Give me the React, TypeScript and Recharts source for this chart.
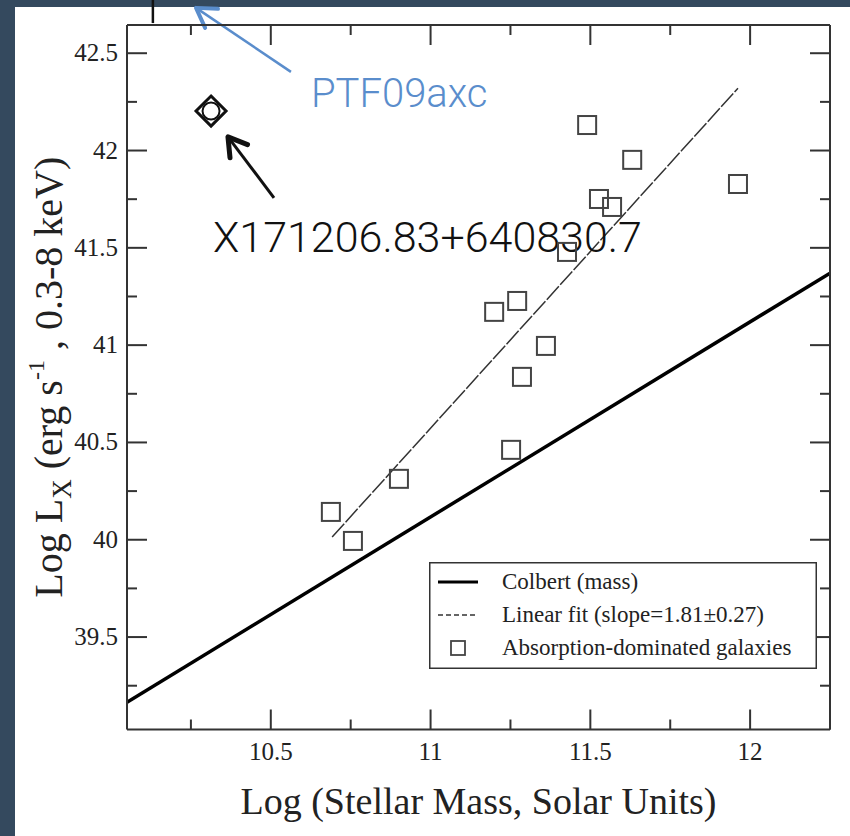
import React from 'react';
import { ComposedChart, XAxis, YAxis, Line, Scatter, ReferenceLine, Legend, Label } from 'recharts';

// ---------- data ----------
const xTicks = [10.25, 10.5, 10.75, 11, 11.25, 11.5, 11.75, 12, 12.25];
const xMajorTicks = [10.5, 11, 11.5, 12];
const yTicks = [39.25, 39.5, 39.75, 40, 40.25, 40.5, 40.75, 41, 41.25, 41.5, 41.75, 42, 42.25, 42.5];
const yMajorTicks = [39.5, 40, 40.5, 41, 41.5, 42, 42.5];

const galaxyMass = [10.688, 10.757, 10.901, 11.199, 11.271, 11.252, 11.286, 11.361, 11.427, 11.49, 11.527, 11.568, 11.631, 11.962];
const galaxyLx = [40.143, 39.994, 40.313, 41.171, 41.227, 40.462, 40.837, 40.996, 41.479, 42.131, 41.751, 41.71, 41.952, 41.828];

const sourceMass = [10.313];
const sourceLx = [42.203];

const colbertMass = [10.05, 12.25];
const colbertLx = [39.165, 41.37];

const fitMass = [10.692, 11.962];
const fitLx = [40.014, 42.32];

// annotation anchors (data coordinates)
const ptfArrowMass = [10.563, 10.266];
const ptfArrowLx = [42.404, 42.733];
const srcArrowMass = [10.51, 10.366];
const srcArrowLx = [41.757, 42.07];
const cutLineMass = [10.131, 10.131];
const cutLineLx = [42.655, 42.78];

const xDomain = [10.05, 12.25];
const yDomain = [39.025, 42.645];

const galaxyData = galaxyMass.map((x, i) => ({ x, y: galaxyLx[i] }));
const sourceData = sourceMass.map((x, i) => ({ x, y: sourceLx[i] }));
const colbertData = colbertMass.map((x, i) => ({ x, y: colbertLx[i] }));
const fitData = fitMass.map((x, i) => ({ x, y: fitLx[i] }));

const SERIF = '"Liberation Serif", "Times New Roman", serif';
const SANS = '"Helvetica Neue", Roboto, Lato, "Open Sans", sans-serif';
const AXIS = '#333';
const serifStyle = { fontFamily: SERIF };

// ---------- ticks ----------
const BottomTick = (p: any) => {
  const v = p.payload.value;
  const major = xMajorTicks.includes(v);
  return (
    <g>
      <line x1={p.x} y1={p.y} x2={p.x} y2={p.y - (major ? 20 : 10)} stroke={AXIS} strokeWidth={2} />
      {major && (
        <text x={p.x} y={p.y + 30} textAnchor="middle" style={serifStyle} fontSize={25} fill="#222">
          {String(v)}
        </text>
      )}
    </g>
  );
};
const TopTick = (p: any) => {
  const v = p.payload.value;
  const major = xMajorTicks.includes(v);
  return <line x1={p.x} y1={p.y} x2={p.x} y2={p.y + (major ? 20 : 10)} stroke={AXIS} strokeWidth={2} />;
};
const LeftTick = (p: any) => {
  const v = p.payload.value;
  const major = yMajorTicks.includes(v);
  return (
    <g>
      <line x1={p.x} y1={p.y} x2={p.x + (major ? 20 : 10)} y2={p.y} stroke={AXIS} strokeWidth={2} />
      {major && (
        <text x={p.x - 9} y={p.y + 8} textAnchor="end" style={serifStyle} fontSize={25} fill="#222">
          {String(v)}
        </text>
      )}
    </g>
  );
};
const RightTick = (p: any) => {
  const v = p.payload.value;
  const major = yMajorTicks.includes(v);
  return <line x1={p.x} y1={p.y} x2={p.x - (major ? 20 : 10)} y2={p.y} stroke={AXIS} strokeWidth={2} />;
};

// ---------- shapes ----------
const SquareShape = (p: any) => (
  <rect x={p.cx - 9} y={p.cy - 9} width={18} height={18} fill="none" stroke="#444" strokeWidth={2} />
);
const DiamondShape = (p: any) => (
  <g>
    <polygon
      points={`${p.cx},${p.cy - 15} ${p.cx + 15},${p.cy} ${p.cx},${p.cy + 15} ${p.cx - 15},${p.cy}`}
      fill="none"
      stroke="#111"
      strokeWidth={3}
    />
    <circle cx={p.cx} cy={p.cy} r={8.5} fill="none" stroke="#111" strokeWidth={2} />
  </g>
);

const arrow = (color: string, w: number, headW: number, head: number, text: string, dx: number, dy: number, fs: number) =>
  (p: any) => {
    const { x1, y1, x2, y2 } = p;
    const ang = Math.atan2(y1 - y2, x1 - x2);
    const a = 0.55;
    const h1 = `${x2 + head * Math.cos(ang - a)},${y2 + head * Math.sin(ang - a)}`;
    const h2 = `${x2 + head * Math.cos(ang + a)},${y2 + head * Math.sin(ang + a)}`;
    return (
      <g>
        <line x1={x1} y1={y1} x2={x2} y2={y2} stroke={color} strokeWidth={w} />
        <polyline points={`${h1} ${x2},${y2} ${h2}`} fill="none" stroke={color} strokeWidth={headW} strokeLinecap="round" strokeLinejoin="round" />
        <text x={x1 + dx} y={y1 + dy} style={{ fontFamily: SANS }} fontWeight={300} fontSize={fs} fill={color}>
          {text}
        </text>
      </g>
    );
  };
const BlueArrow = arrow('#5a8dcc', 2.5, 4, 22, 'PTF09axc', 20, 35, 40);
const BlackArrow = arrow('#111', 3, 5, 21, 'X171206.83+640830.7', -61, 54, 43);

const CutLine = (p: any) => <line x1={p.x1} y1={p.y1} x2={p.x2} y2={p.y2} stroke="#111" strokeWidth={2.5} />;

// ---------- titles ----------
const XTitle = (p: any) => {
  const vb = p.viewBox;
  return (
    <text x={vb.x + vb.width / 2} y={vb.y + 84} textAnchor="middle" style={serifStyle} fontSize={38} fill="#222">
      Log (Stellar Mass, Solar Units)
    </text>
  );
};
const YTitle = (p: any) => {
  const vb = p.viewBox;
  const cx = 62;
  const cy = vb.y + vb.height / 2;
  return (
    <text x={cx} y={cy} transform={`rotate(-90, ${cx}, ${cy})`} textAnchor="middle" style={serifStyle} fontSize={40} fill="#222">
      Log L<tspan dy={9} fontSize={27}>X</tspan>
      <tspan dy={-9}> (erg s</tspan>
      <tspan dy={-18} fontSize={24}>-1</tspan>
      <tspan dy={18}> , 0.3-8 keV)</tspan>
    </text>
  );
};

// ---------- legend ----------
const legendOrder = ['Colbert (mass)', 'Linear fit (slope=1.81\u00b10.27)', 'Absorption-dominated galaxies'];
const LegendBox = (p: any) => {
  const items = (p.payload || [])
    .filter((e: any) => legendOrder.includes(e.value))
    .sort((a: any, b: any) => legendOrder.indexOf(a.value) - legendOrder.indexOf(b.value));
  return (
    <svg width={388} height={107} style={{ display: 'block' }}>
      <rect x={0.75} y={0.75} width={386.5} height={105.5} fill="#fff" stroke="#333" strokeWidth={1.5} />
      {items.map((e: any, i: number) => {
        const y = 20 + i * 33;
        let icon;
        if (i === 0) icon = <line x1={9} x2={49} y1={y} y2={y} stroke="#000" strokeWidth={3} />;
        else if (i === 1) icon = <line x1={9} x2={49} y1={y} y2={y} stroke="#333" strokeWidth={1.5} strokeDasharray="5 3" />;
        else icon = <rect x={22} y={y - 7} width={14} height={14} fill="none" stroke="#444" strokeWidth={1.8} />;
        return (
          <g key={i}>
            {icon}
            <text x={73} y={y + 7} style={serifStyle} fontSize={23} fill="#222">
              {e.value}
            </text>
          </g>
        );
      })}
    </svg>
  );
};

export default function App() {
  return (
    <div style={{ position: 'absolute', left: 0, top: 0, width: 850, height: 836, background: '#34495e', overflow: 'hidden' }}>
      <div style={{ position: 'absolute', left: 15, top: 7, width: 835, height: 829, background: '#fff' }} />
      <div style={{ position: 'absolute', left: 0, top: 0 }}>
        <ComposedChart width={850} height={836} margin={{ top: 0, right: 0, bottom: 0, left: 0 }}>
          <XAxis
            xAxisId="b"
            orientation="bottom"
            type="number"
            dataKey="x"
            domain={xDomain}
            allowDataOverflow
            ticks={xTicks}
            interval={0}
            height={106.5}
            tickSize={0}
            tickMargin={0}
            tickLine={false}
            axisLine={{ stroke: AXIS, strokeWidth: 2 }}
            tick={BottomTick}
          >
            <Label content={XTitle} />
          </XAxis>
          <XAxis
            xAxisId="t"
            orientation="top"
            type="number"
            dataKey="x"
            domain={xDomain}
            allowDataOverflow
            ticks={xTicks}
            interval={0}
            height={25}
            tickSize={0}
            tickMargin={0}
            tickLine={false}
            axisLine={{ stroke: AXIS, strokeWidth: 2 }}
            tick={TopTick}
          />
          <YAxis
            yAxisId="l"
            orientation="left"
            type="number"
            dataKey="y"
            domain={yDomain}
            allowDataOverflow
            ticks={yTicks}
            interval={0}
            width={127}
            tickSize={0}
            tickMargin={0}
            tickLine={false}
            axisLine={{ stroke: AXIS, strokeWidth: 2 }}
            tick={LeftTick}
          >
            <Label content={YTitle} />
          </YAxis>
          <YAxis
            yAxisId="r"
            orientation="right"
            type="number"
            dataKey="y"
            domain={yDomain}
            allowDataOverflow
            ticks={yTicks}
            interval={0}
            width={20}
            tickSize={0}
            tickMargin={0}
            tickLine={false}
            axisLine={{ stroke: AXIS, strokeWidth: 2 }}
            tick={RightTick}
          />
          <Line
            xAxisId="b"
            yAxisId="l"
            data={colbertData}
            dataKey="y"
            name="Colbert (mass)"
            type="linear"
            stroke="#000"
            strokeWidth={3.5}
            dot={false}
            activeDot={false}
            isAnimationActive={false}
          />
          <Line
            xAxisId="b"
            yAxisId="l"
            data={fitData}
            dataKey="y"
            name={'Linear fit (slope=1.81\u00b10.27)'}
            type="linear"
            stroke="#333"
            strokeWidth={1.5}
            strokeDasharray="18 2"
            dot={false}
            activeDot={false}
            isAnimationActive={false}
          />
          <Scatter
            xAxisId="b"
            yAxisId="l"
            data={galaxyData}
            dataKey="y"
            name="Absorption-dominated galaxies"
            shape={SquareShape}
            isAnimationActive={false}
          />
          <Scatter
            xAxisId="b"
            yAxisId="l"
            data={sourceData}
            dataKey="y"
            name="X171206.83+640830.7"
            legendType="none"
            shape={DiamondShape}
            isAnimationActive={false}
          />
          <ReferenceLine
            xAxisId="b"
            yAxisId="l"
            ifOverflow="visible"
            segment={[
              { x: cutLineMass[0], y: cutLineLx[0] },
              { x: cutLineMass[1], y: cutLineLx[1] },
            ]}
            shape={CutLine}
          />
          <ReferenceLine
            xAxisId="b"
            yAxisId="l"
            ifOverflow="visible"
            segment={[
              { x: ptfArrowMass[0], y: ptfArrowLx[0] },
              { x: ptfArrowMass[1], y: ptfArrowLx[1] },
            ]}
            shape={BlueArrow}
          />
          <ReferenceLine
            xAxisId="b"
            yAxisId="l"
            ifOverflow="visible"
            segment={[
              { x: srcArrowMass[0], y: srcArrowLx[0] },
              { x: srcArrowMass[1], y: srcArrowLx[1] },
            ]}
            shape={BlackArrow}
          />
          <Legend
            layout="vertical"
            align="center"
            verticalAlign="middle"
            wrapperStyle={{ position: 'absolute', left: 429, top: 562, width: 388, height: 107 }}
            content={LegendBox}
          />
        </ComposedChart>
      </div>
    </div>
  );
}
